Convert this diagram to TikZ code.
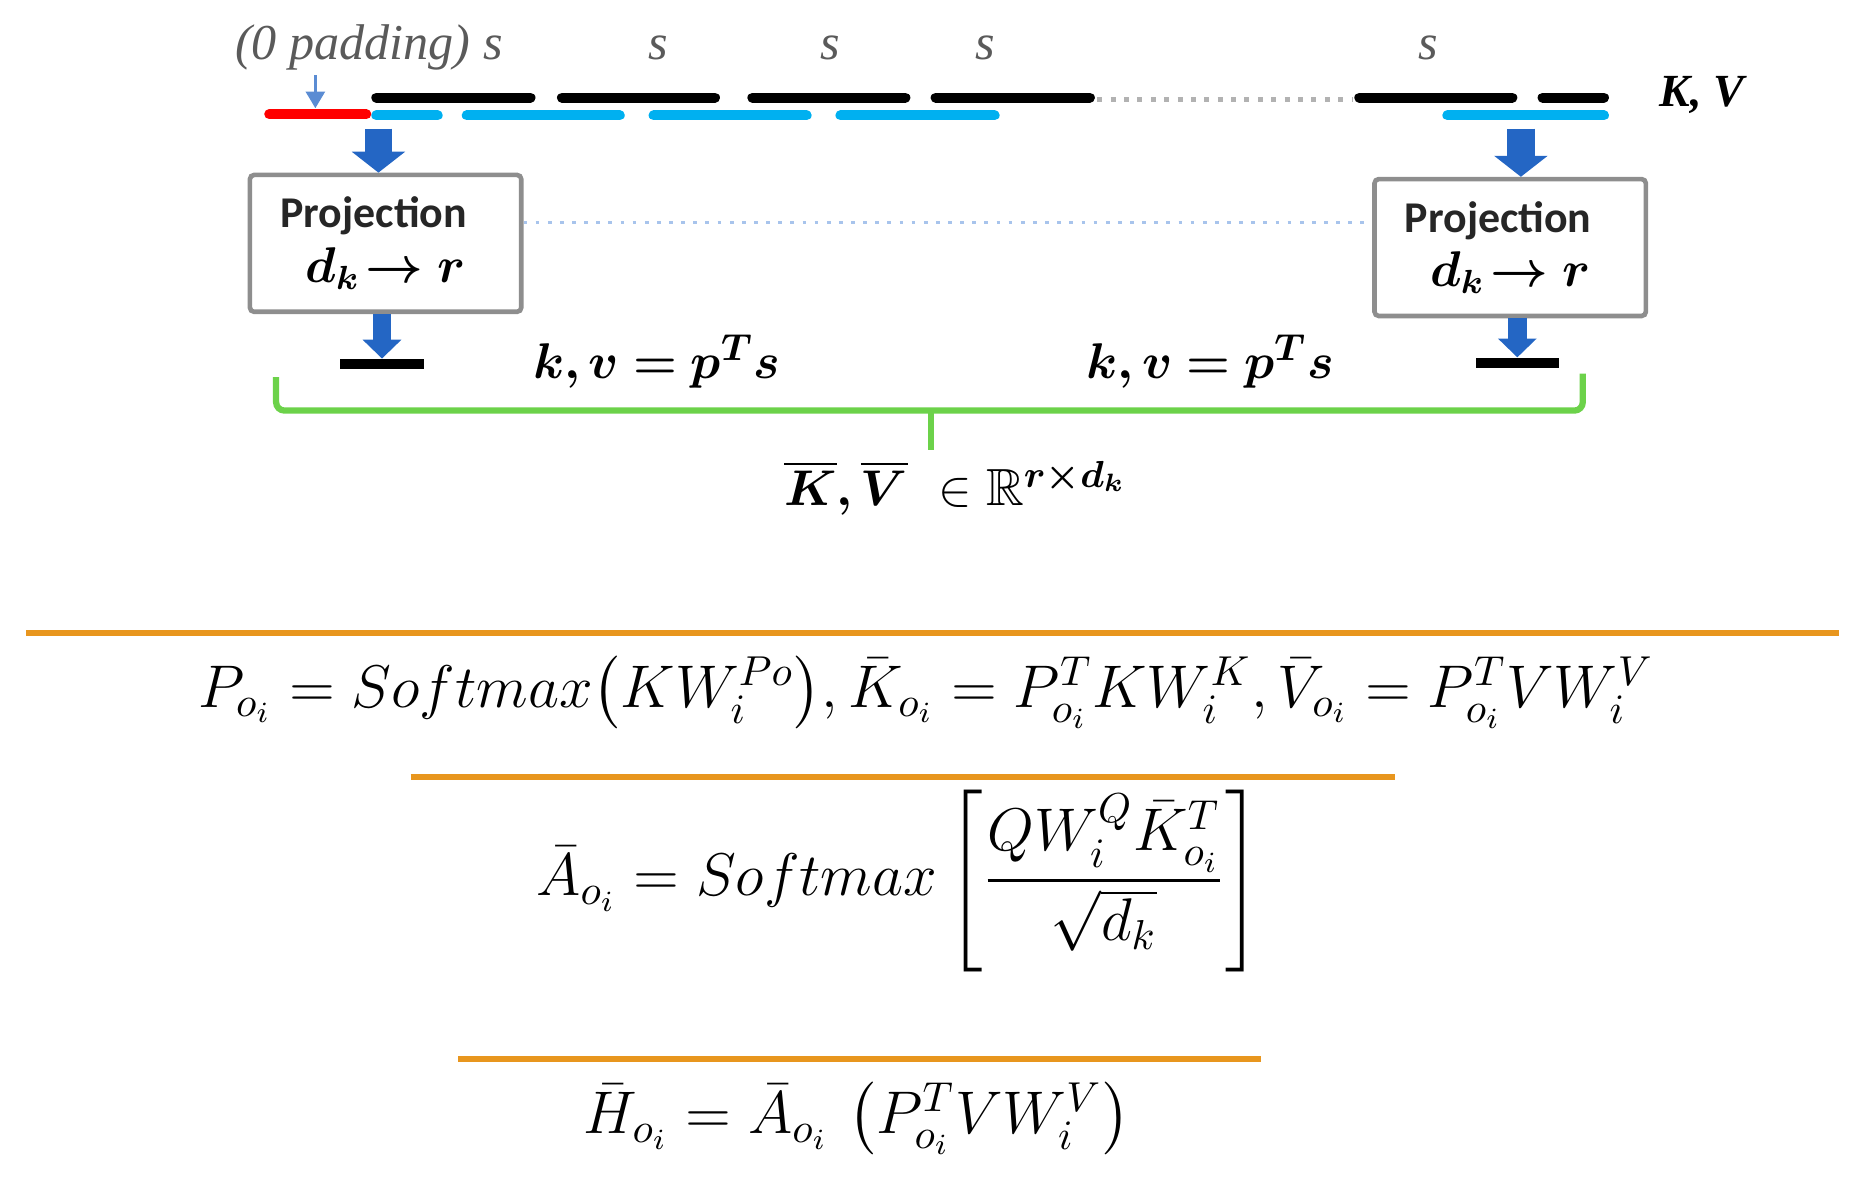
\documentclass[tikz,border=0pt]{standalone}
\usepackage{amsmath,amssymb,bm}
\usepackage{fontspec}
\newfontfamily\carlito{Carlito}
\newfontfamily\timesf{Liberation Serif}
\usetikzlibrary{arrows.meta,positioning,calc}
\definecolor{cyanbar}{HTML}{00B0F0}
\definecolor{padred}{HTML}{FF0000}
\definecolor{blockblue}{HTML}{2466C4}
\definecolor{boxgray}{HTML}{8E8E8E}
\definecolor{bracegreen}{HTML}{6CD24A}
\definecolor{eqorange}{HTML}{E8961E}
\definecolor{linkblue}{HTML}{A8C4EC}
\definecolor{labelgray}{HTML}{5A5A5A}
\tikzset{
  segbar/.style={line width=2.4pt,line cap=round,draw=black,shorten <=1.2pt,shorten >=1.2pt},
  cyanseg/.style={segbar,draw=cyanbar},
  padseg/.style={segbar,draw=padred},
  gapdots/.style={line width=1.2pt,draw=gray!60,dotted},
  linkdots/.style={line width=0.9pt,draw=linkblue,dotted},
  projbox/.style={draw=boxgray,line width=1.1pt,fill=white,rounded corners=1pt,minimum width=2.28cm,minimum height=1.15cm,align=center,inner sep=2pt},
  outbar/.style={fill=black,minimum width=0.70cm,minimum height=0.08cm,inner sep=0pt},
  bigarr/.style={-{Triangle[width=12.5pt,length=5pt]},line width=6.5pt,draw=blockblue},
  smallarr/.style={-{Triangle[width=9pt,length=4.5pt]},line width=4.5pt,draw=blockblue},
  padarr/.style={-{Triangle[width=4.5pt,length=4pt]},line width=0.8pt,draw=blockblue!75},
  bracket/.style={line width=1.5pt,draw=bracegreen,rounded corners=2pt},
  eqrule/.style={line width=1.5pt,draw=eqorange},
  seglabel/.style={font=\timesf\itshape\fontsize{12}{14}\selectfont,text=labelgray,inner sep=1pt},
  kvlabel/.style={font=\fontsize{12.5}{15}\selectfont,inner sep=1pt},
  eqnode/.style={font=\fontsize{14.5}{17}\selectfont,inner sep=0pt}
}

\begin{document}
\begin{tikzpicture}
  \useasboundingbox (0,0) rectangle (15.68,-10.02);
  % segments of K, V
  \node[seglabel] (padtxt) at (3.10,-0.40) {(0 padding) s};
  \foreach \sx [count=\si] in {5.53,6.98,8.28,12.00}
    \node[seglabel] (s\si) at (\sx,-0.40) {s};
  \foreach \xa/\xb in {3.12/4.50,4.68/6.05,6.28/7.65,7.82/9.20,11.38/12.75,12.92/13.52}
    \draw[segbar] (\xa,-0.82) -- (\xb,-0.82);
  \draw[gapdots] (9.22,-0.84) -- (11.36,-0.84);
  \foreach \xa/\xb in {3.12/3.72,3.88/5.25,5.45/6.82,7.02/8.40,12.12/13.52}
    \draw[cyanseg] (\xa,-0.97) -- (\xb,-0.97);
  \draw[padseg] (2.22,-0.96) -- (3.12,-0.96);
  \coordinate (padmid) at (2.65,-0.91);
  \draw[padarr] (padmid |- padtxt.south) -- (padmid);
  \node[font=\timesf\bfseries\itshape\fontsize{11}{13}\selectfont,inner sep=1pt] (kvtxt) at (14.30,-0.80) {K, V};
  % projections
  \node[projbox] (projL) at (3.24,-2.045) {{\carlito\bfseries\fontsize{10.5}{12}\selectfont\color{black!85}Projection\hspace*{0.2cm}}\\[1pt]{\fontsize{12}{14}\selectfont$\bm{d_k\!\rightarrow r}$}};
  \node[projbox] (projR) at (12.69,-2.08) {{\carlito\bfseries\fontsize{10.5}{12}\selectfont\color{black!85}Projection\hspace*{0.2cm}}\\[1pt]{\fontsize{12}{14}\selectfont$\bm{d_k\!\rightarrow r}$}};
  \draw[linkdots] ([yshift=0.175cm]projL.east) -- ([yshift=0.175cm]projL.east -| projR.west);
  \coordinate (inL) at (3.18,-1.08);
  \coordinate (inR) at (12.78,-1.08);
  \draw[bigarr] (inL) -- (inL |- projL.north);
  \draw[bigarr] (inR) -- (inR |- projR.north);
  \node[outbar] (outL) at (3.21,-3.06) {};
  \node[outbar] (outR) at (12.75,-3.05) {};
  \draw[smallarr] (outL |- projL.south) -- (outL.north);
  \draw[smallarr] (outR |- projR.south) -- (outR.north);
  \node[kvlabel] (kvL) at (5.52,-3.04) {$\bm{k, v = p^{T} s}$};
  \node[kvlabel] (kvR) at (10.17,-3.04) {$\bm{k, v = p^{T} s}$};
  % bracket
  \coordinate (brL) at (2.32,-3.17);
  \coordinate (brR) at (13.30,-3.14);
  \coordinate (brM) at (7.82,-3.45);
  \draw[bracket] (brL) -- ++(0,-0.28) -| (brR);
  \draw[bracket] (brM) -- ++(0,-0.33);
  \node[kvlabel] (kvsum) at (8.03,-4.10) {$\bm{\overline{K}, \overline{V}}\ \in \mathbb{R}^{\bm{r \times d_k}}$};
  % equations
  \draw[eqrule] (0.22,-5.32) -- (15.45,-5.32);
  \node[eqnode] (eqP) at (7.78,-5.82) {$P_{o_i} = Softmax\bigl(KW_i^{Po}\bigr), \bar{K}_{o_i} = P_{o_i}^{T} K W_i^{K}, \bar{V}_{o_i} = P_{o_i}^{T} V W_i^{V}$};
  \draw[eqrule] (3.45,-6.53) -- (11.72,-6.53);
  \node[eqnode] (eqA) at (7.55,-7.40) {$\bar{A}_{o_i} = Softmax\left[\dfrac{QW_i^{Q} \bar{K}_{o_i}^{T}}{\sqrt{d_k}}\right]$};
  \draw[eqrule] (3.85,-8.90) -- (10.60,-8.90);
  \node[eqnode] (eqH) at (7.20,-9.40) {$\bar{H}_{o_i} = \bar{A}_{o_i}\,\left(P_{o_i}^{T} V W_i^{V}\right)$};
\end{tikzpicture}
\end{document}
